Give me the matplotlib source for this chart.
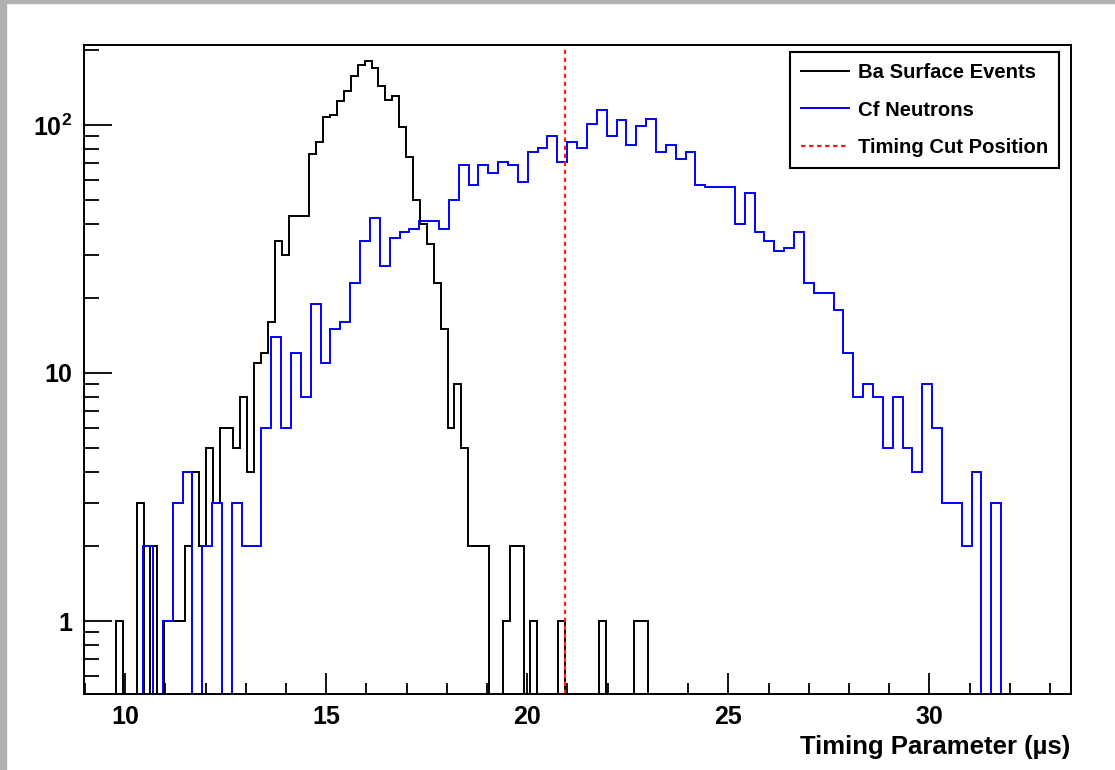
import numpy as np
import matplotlib.pyplot as plt
from matplotlib.lines import Line2D
from matplotlib.patches import Rectangle

plt.rcParams['font.family'] = ['Liberation Sans', 'DejaVu Sans']
plt.rcParams['font.weight'] = 'bold'
plt.rcParams['mathtext.fontset'] = 'custom'
plt.rcParams['mathtext.rm'] = 'Liberation Sans:bold'
plt.rcParams['mathtext.it'] = 'Liberation Sans:bold'
plt.rcParams['mathtext.bf'] = 'Liberation Sans:bold'

# Ba surface events: counts per bin, bins of 0.1718 us starting at 9.77 us
ba_start = 9.77
ba_width = 0.1718
ba_counts = [1, 0, 0, 3, 0, 2, 0, 1, 1, 1,
             2, 4, 2, 5, 3, 6, 6, 5, 8, 4,
             11, 12, 16, 34, 30, 43, 43, 43, 76, 85,
             108, 110, 125, 137, 157, 174, 181, 169, 143, 126,
             131, 98, 74, 50, 40, 33, 23, 15, 6, 9,
             5, 2, 2, 2, 0, 0, 1, 2, 2, 0,
             1, 0, 0, 0, 1, 0, 0, 0, 0, 0,
             1, 0, 0, 0, 0, 1, 1]

# Cf neutrons: counts per bin, bins of 0.2453 us starting at 10.445 us
cf_start = 10.445
cf_width = 0.2453
cf_counts = [2, 0, 1, 3, 4, 0, 2, 3, 0, 3,
             2, 2, 6, 14, 6, 12, 8, 19, 11, 15,
             16, 23, 34, 42, 27, 35, 37, 38, 41, 41,
             38, 50, 69, 57, 69, 64, 71, 69, 59, 78,
             81, 90, 71, 85, 81, 101, 115, 90, 105, 83,
             99, 106, 78, 83, 73, 78, 57, 56, 56, 56,
             40, 53, 37, 34, 31, 32, 37, 23, 21, 21,
             18, 12, 8, 9, 8, 5, 8, 5, 4, 9,
             6, 3, 3, 2, 4, 0, 3]

cut_position = 20.94
labels = ['Ba Surface Events', 'Cf Neutrons', 'Timing Cut Position']

fig = plt.figure(figsize=(11.15, 7.7), dpi=100)
# grey window border on the left and top edges
fig.patches.append(Rectangle((0, 0), 6 / 1115, 1, transform=fig.transFigure,
                             color='#b0b0b0', zorder=0))
fig.patches.append(Rectangle((0, 1 - 3 / 770), 1, 3 / 770, transform=fig.transFigure,
                             color='#b0b0b0', zorder=0))

ax = fig.add_axes([0.0749, 0.0987, 0.8854, 0.8429])

floor = 1e-3  # empty bins drop below the visible range on the log axis
ba = np.array(ba_counts, dtype=float)
cf = np.array(cf_counts, dtype=float)
ba_edges = ba_start + ba_width * np.arange(len(ba) + 1)
cf_edges = cf_start + cf_width * np.arange(len(cf) + 1)

ax.stairs(np.where(ba > 0, ba, floor), ba_edges, baseline=floor,
          color='black', lw=1.4)
ax.stairs(np.where(cf > 0, cf, floor), cf_edges, baseline=floor,
          color='#0000ff', lw=1.4)
ax.axvline(cut_position, color='#ff2020', lw=1.6, dashes=(2.0, 1.6))

ax.set_yscale('log')
ax.set_xlim(8.963, 33.516)
ax.set_ylim(0.508, 210)

# ROOT-like ticks: inward, left and bottom only
ax.set_xticks([10, 15, 20, 25, 30])
ax.set_xticks(np.arange(9, 34), minor=True)
ax.set_xticklabels(['10', '15', '20', '25', '30'])
ax.set_yticks([1, 10, 100])
ax.set_yticklabels(['1', '10', r'$10^{2}$'])
minor_y = [0.6, 0.7, 0.8, 0.9] + [m * d for d in (1, 10) for m in range(2, 10)] + [200]
ax.set_yticks(minor_y, minor=True)
ax.set_yticklabels([], minor=True)

ax.tick_params(axis='both', which='both', direction='in', width=1.3,
               top=False, right=False, labelsize=18, colors='black')
ax.tick_params(axis='y', which='major', length=20, pad=8)
ax.tick_params(axis='y', which='minor', length=11)
ax.tick_params(axis='x', which='major', length=15, pad=8)
ax.tick_params(axis='x', which='minor', length=8)
for s in ax.spines.values():
    s.set_linewidth(1.4)

ax.set_xlabel('Timing Parameter (\u00b5s)', fontsize=18.5, fontweight='bold',
              loc='right', labelpad=4)

handles = [Line2D([], [], color='black', lw=1.4),
           Line2D([], [], color='#0000ff', lw=1.4),
           Line2D([], [], color='#ff2020', lw=1.6, dashes=(2.0, 1.6))]
leg = ax.legend(handles, labels, loc='upper left', bbox_to_anchor=(0.7157, 0.989),
                fontsize=14.6, frameon=True, fancybox=False, framealpha=1,
                edgecolor='black', borderpad=0.55, labelspacing=0.9,
                handlelength=2.35, handletextpad=0.45, borderaxespad=0)
leg.get_frame().set_linewidth(1.5)
for t in leg.get_texts():
    t.set_fontweight('bold')

fig.savefig('out.png', dpi=100, facecolor='white')
